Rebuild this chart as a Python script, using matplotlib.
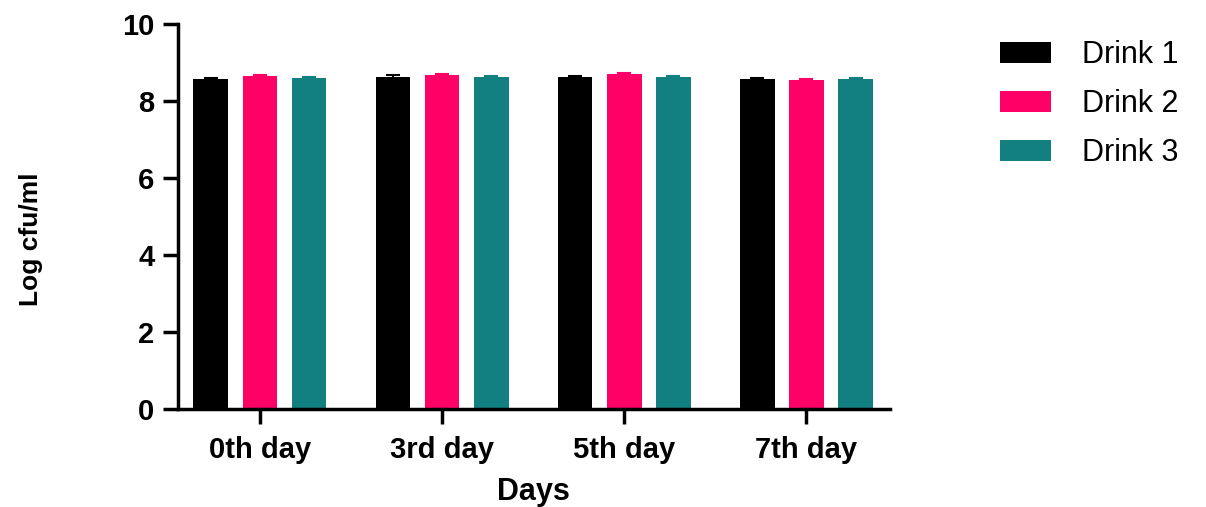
import matplotlib.pyplot as plt
import numpy as np

plt.rcParams['font.family'] = ['Liberation Sans', 'DejaVu Sans']

days = ['0th day', '3rd day', '5th day', '7th day']
drinks = ['Drink 1', 'Drink 2', 'Drink 3']
colors = ['#000000', '#FF0066', '#128080']

# mean log cfu/ml and standard deviation per drink
drink1 = [8.58, 8.61, 8.61, 8.57]
drink2 = [8.65, 8.67, 8.70, 8.53]
drink3 = [8.60, 8.62, 8.63, 8.57]
drink1_sd = [0.02, 0.07, 0.03, 0.02]
drink2_sd = [0.02, 0.03, 0.02, 0.03]
drink3_sd = [0.02, 0.02, 0.02, 0.02]

means = [drink1, drink2, drink3]
sds = [drink1_sd, drink2_sd, drink3_sd]

fig = plt.figure(figsize=(12.06, 5.07), dpi=100)
ax = fig.add_axes([0.1476, 0.193, 0.590, 0.760])

x = np.arange(len(days))
width = 0.19
step = 0.27
for i, (m, s, c, lab) in enumerate(zip(means, sds, colors, drinks)):
    ax.bar(x + (i - 1) * step, m, width, color=c, label=lab,
           yerr=s, capsize=5, error_kw=dict(ecolor=c, elinewidth=1.5, capthick=1.5))

ax.set_xlim(-0.45, 3.456)
ax.set_ylim(0, 10)
ax.set_yticks([0, 2, 4, 6, 8, 10])
ax.set_xticks(x)
ax.set_xticklabels(days)

for side in ['top', 'right']:
    ax.spines[side].set_visible(False)
for side in ['left', 'bottom']:
    ax.spines[side].set_linewidth(2.5)

ax.tick_params(axis='both', which='major', width=2.5, length=11, labelsize=21, pad=6)
ax.tick_params(axis='x', pad=8)
for lbl in ax.get_xticklabels() + ax.get_yticklabels():
    lbl.set_fontweight('bold')

ax.set_xlabel('Days', fontsize=22, fontweight='bold')
ax.set_ylabel('Log cfu/ml', fontsize=19, fontweight='bold')
ax.xaxis.set_label_coords(0.50, -0.175)
ax.yaxis.set_label_coords(-0.19, 0.44)

ax.legend(loc='upper left', bbox_to_anchor=(0.806, 0.975), bbox_transform=fig.transFigure,
          frameon=False, fontsize=22, handlelength=1.7, handleheight=0.65,
          labelspacing=0.62, handletextpad=1.0)

fig.savefig('out.png', dpi=100)
